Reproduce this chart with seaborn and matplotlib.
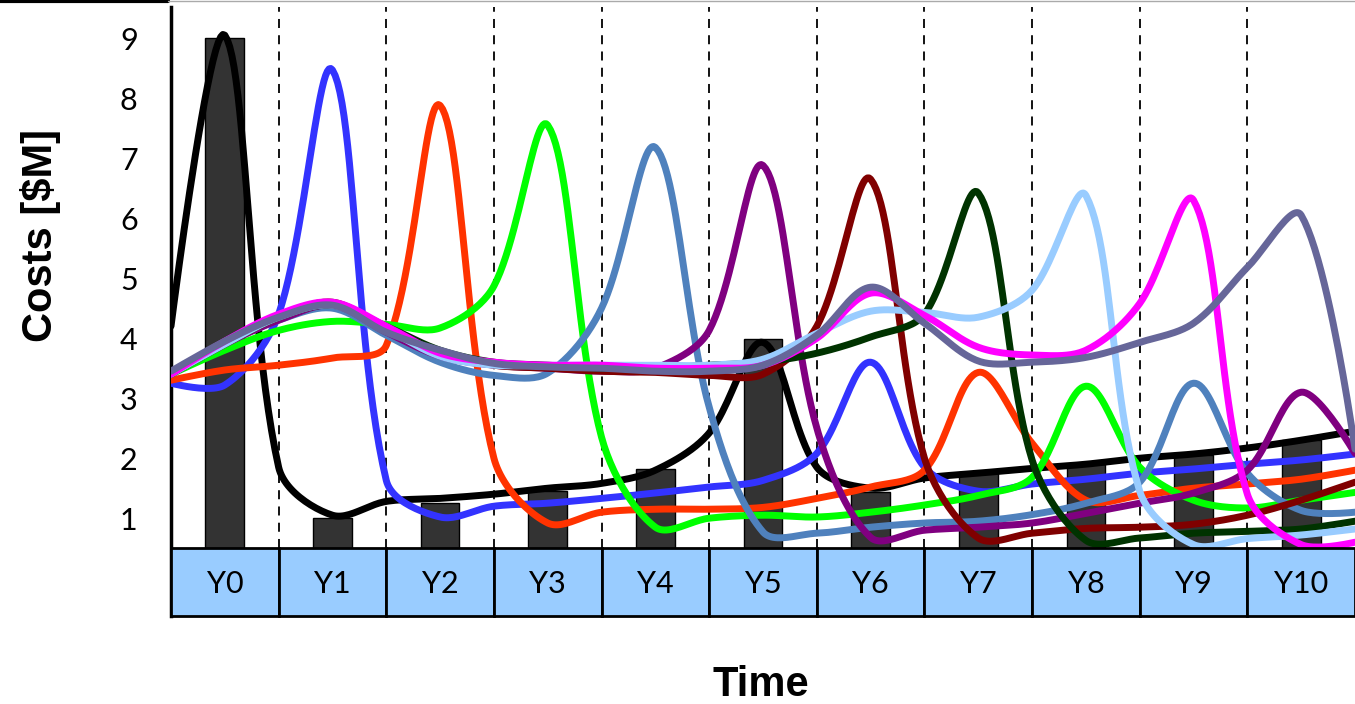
import numpy as np
import seaborn as sns
import matplotlib.pyplot as plt
from matplotlib.patches import Rectangle
from matplotlib.lines import Line2D

# category labels and bar heights ($M)
years = ["Y0", "Y1", "Y2", "Y3", "Y4", "Y5", "Y6", "Y7", "Y8", "Y9", "Y10"]
bars = [9.0, 1.0, 1.25, 1.45, 1.82, 3.98, 1.43, 1.77, 1.9, 2.05, 2.3]

# curve values read at every half year, from the left edge (-0.5) to the right edge (10.5)
black = [4.2, 9.05, 1.85, 1.05, 1.28, 1.33, 1.4, 1.5, 1.58, 1.8, 2.42, 3.93,
         1.85, 1.5, 1.67, 1.75, 1.83, 1.9, 2.0, 2.07, 2.17, 2.3, 2.45]
blue = [3.25, 3.22, 4.4, 8.47, 1.63, 1.02, 1.2, 1.25, 1.33, 1.42, 1.52, 1.63,
        2.08, 3.6, 1.85, 1.45, 1.57, 1.65, 1.75, 1.82, 1.9, 1.97, 2.07]
orange = [3.3, 3.47, 3.55, 3.67, 3.88, 7.88, 2.0, 0.92, 1.1, 1.15, 1.15, 1.18,
          1.33, 1.52, 1.8, 3.43, 2.25, 1.3, 1.38, 1.5, 1.57, 1.65, 1.8]
green = [3.4, 3.8, 4.13, 4.28, 4.23, 4.17, 4.87, 7.55, 2.35, 0.85, 1.0, 1.05,
         1.02, 1.1, 1.22, 1.38, 1.68, 3.2, 1.85, 1.3, 1.17, 1.3, 1.43]
steel = [3.4, 3.9, 4.3, 4.5, 4.05, 3.6, 3.38, 3.42, 4.5, 7.18, 2.85, 0.77,
         0.75, 0.85, 0.92, 0.95, 1.06, 1.25, 1.6, 3.25, 1.75, 1.13, 1.1]
purple = [3.4, 3.9, 4.3, 4.55, 4.1, 3.7, 3.55, 3.5, 3.45, 3.5, 4.13, 6.88,
          2.5, 0.68, 0.8, 0.85, 0.92, 1.08, 1.25, 1.42, 1.8, 3.1, 2.08]
maroon = [3.4, 3.9, 4.35, 4.6, 4.15, 3.75, 3.55, 3.5, 3.45, 3.43, 3.38, 3.4,
          4.2, 6.65, 2.0, 0.67, 0.75, 0.83, 0.85, 0.9, 1.05, 1.3, 1.6]
dkgreen = [3.4, 3.9, 4.35, 4.55, 4.2, 3.8, 3.6, 3.55, 3.5, 3.5, 3.55, 3.6,
           3.75, 4.02, 4.4, 6.42, 1.97, 0.63, 0.67, 0.75, 0.78, 0.82, 0.95]
ltblue = [3.4, 3.9, 4.35, 4.55, 4.15, 3.7, 3.55, 3.55, 3.55, 3.55, 3.55, 3.65,
          4.08, 4.45, 4.43, 4.35, 4.8, 6.38, 1.45, 0.56, 0.66, 0.72, 0.82]
magenta = [3.4, 3.95, 4.4, 4.6, 4.2, 3.75, 3.6, 3.55, 3.55, 3.5, 3.5, 3.55,
           4.0, 4.75, 4.38, 3.85, 3.72, 3.8, 4.58, 6.3, 1.4, 0.56, 0.6]
slate = [3.45, 3.95, 4.35, 4.55, 4.1, 3.8, 3.58, 3.52, 3.5, 3.45, 3.45, 3.55,
         4.05, 4.85, 4.25, 3.62, 3.6, 3.68, 3.93, 4.25, 5.18, 6.05, 2.15]

curves = [black, blue, orange, green, steel, purple, maroon, dkgreen, ltblue, magenta, slate]
colors = ["#000000", "#3333FF", "#FF3300", "#00FF00", "#4F81BD", "#800080",
          "#800000", "#003300", "#99CCFF", "#FF00FF", "#666699"]

steps = np.arange(-0.5, 10.51, 0.5)


def smooth(x, y, n=24, sx=107.6, sy=60.0, tension=1 / 3):
    # smoothed line through the read points (bezier per segment, control arms
    # sized from the neighbouring segment lengths as seen on screen)
    p = np.column_stack([np.asarray(x, float) * sx, np.asarray(y, float) * sy])
    cin = p.copy()
    cout = p.copy()
    for i in range(1, len(p) - 1):
        v = p[i + 1] - p[i - 1]
        d0 = np.hypot(*(p[i] - p[i - 1]))
        d1 = np.hypot(*(p[i + 1] - p[i]))
        cin[i] = p[i] - tension * d0 / (d0 + d1) * v
        cout[i] = p[i] + tension * d1 / (d0 + d1) * v
    t = np.linspace(0, 1, n, endpoint=False)[:, None]
    pts = []
    for i in range(len(p) - 1):
        b = ((1 - t) ** 3 * p[i] + 3 * (1 - t) ** 2 * t * cout[i]
             + 3 * (1 - t) * t ** 2 * cin[i + 1] + t ** 3 * p[i + 1])
        pts.append(b)
    pts.append(p[-1:])
    pts = np.concatenate(pts)
    return pts[:, 0] / sx, pts[:, 1] / sy


sns.set_style("white")
plt.rcParams["font.family"] = ["Lato", "DejaVu Sans"]
plt.rcParams["text.color"] = "black"
plt.rcParams["ytick.color"] = "black"

fig = plt.figure(figsize=(13.55, 7.04), dpi=100)
ax = fig.add_axes([171 / 1355, 1 - 616 / 704, 1 - 171 / 1355, 609 / 704])

sns.barplot(x=np.arange(len(years)), y=bars, native_scale=True, ax=ax,
            color="#333333", saturation=1, width=0.36, edgecolor="black",
            linewidth=1, zorder=2)

ax.vlines(np.arange(len(years) - 1) + 0.5, 0.5, 9.6, colors="black",
          linestyles=(0, (5, 4)), linewidth=1.3, zorder=1)

for k, (vals, c) in enumerate(zip(curves, colors)):
    xs, ys = smooth(steps, vals)
    sns.lineplot(x=xs, y=ys, ax=ax, color=c, linewidth=5.0, sort=False,
                 estimator=None, zorder=3 + k * 0.01)

# category boxes under the plot
for i, lab in enumerate(years):
    ax.add_patch(Rectangle((i - 0.5, -0.63), 1, 1.13, facecolor="#99CCFF",
                           edgecolor="black", linewidth=2, zorder=6, clip_on=False))
    ax.text(i, -0.1, lab, ha="center", va="center", fontsize=22, color="black", zorder=7)

ax.set_xlim(-0.5, 10.5)
ax.set_ylim(-0.63, 9.52)
ax.set_yticks(range(1, 10))
ax.set_xticks([])
ax.tick_params(axis="y", length=0, pad=24, labelsize=22, labelcolor="black")
ax.set_xlabel("")
ax.set_ylabel("")
for s in ["top", "right", "bottom"]:
    ax.spines[s].set_visible(False)
ax.spines["left"].set_linewidth(2.5)
ax.spines["left"].set_color("black")

fig.text(0.03, 0.666, "Costs [$M]", rotation=90, ha="center", va="center",
         fontsize=30, fontweight="bold", family="Liberation Sans", color="black")
fig.text(0.5616, 0.027, "Time", ha="center", va="center",
         fontsize=30, fontweight="bold", family="Liberation Sans", color="black")

fig.add_artist(Line2D([0, 168 / 1355], [0.998, 0.998], color="black", linewidth=3,
                      transform=fig.transFigure))
fig.add_artist(Line2D([168 / 1355, 1], [0.999, 0.999], color="#aaaaaa", linewidth=1,
                      transform=fig.transFigure))

fig.savefig("out.png", dpi=100)
